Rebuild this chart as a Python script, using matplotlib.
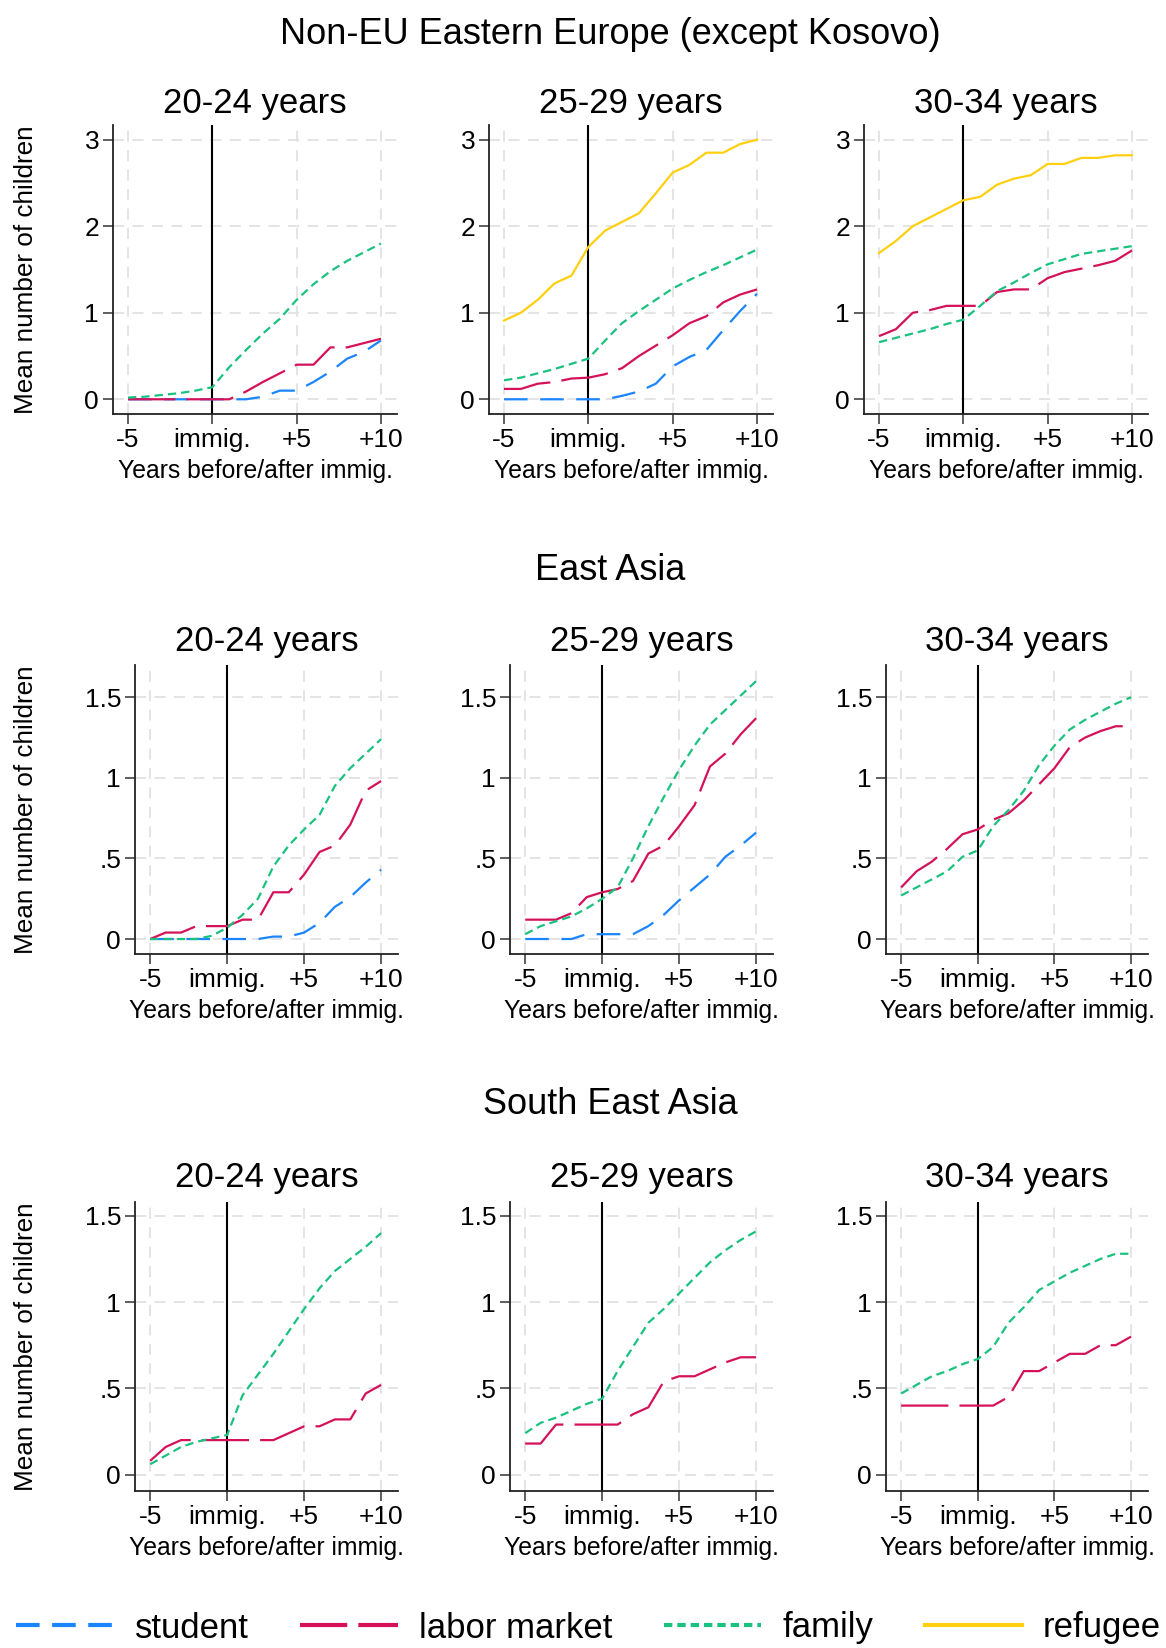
import matplotlib
matplotlib.use("Agg")
import matplotlib.pyplot as plt

plt.rcParams["font.family"] = ["Liberation Sans", "DejaVu Sans"]
plt.rcParams["lines.scale_dashes"] = False

# years relative to immigration
years = list(range(-5, 11))
xtick_pos = [-5, 0, 5, 10]
xtick_labels = ["-5", "immig.", "+5", "+10"]

# Non-EU Eastern Europe (except Kosovo)
ee_2024_student = [0, 0, 0, 0, 0, 0, 0, 0, 0.03, 0.10, 0.10, 0.20, 0.32, 0.47, 0.55, 0.68]
ee_2024_labor = [0, 0, 0, 0, 0, 0, 0, 0.09, 0.20, 0.30, 0.40, 0.40, 0.60, 0.60, 0.65, 0.70]
ee_2024_family = [0.02, 0.03, 0.05, 0.07, 0.10, 0.14, 0.37, 0.57, 0.76, 0.93, 1.15, 1.33, 1.48, 1.60, 1.70, 1.80]

ee_2529_student = [0, 0, 0, 0, 0, 0, 0, 0.04, 0.09, 0.18, 0.38, 0.49, 0.57, 0.80, 1.02, 1.22]
ee_2529_labor = [0.12, 0.12, 0.18, 0.20, 0.24, 0.25, 0.29, 0.36, 0.50, 0.62, 0.74, 0.88, 0.96, 1.12, 1.21, 1.27]
ee_2529_family = [0.22, 0.25, 0.30, 0.35, 0.41, 0.47, 0.68, 0.88, 1.02, 1.15, 1.28, 1.38, 1.47, 1.55, 1.64, 1.73]
ee_2529_refugee = [0.91, 1.00, 1.15, 1.34, 1.43, 1.76, 1.95, 2.05, 2.15, 2.38, 2.62, 2.71, 2.85, 2.85, 2.95, 3.00]

ee_3034_labor = [0.73, 0.81, 1.00, 1.03, 1.08, 1.08, 1.08, 1.24, 1.27, 1.27, 1.40, 1.47, 1.51, 1.55, 1.60, 1.72]
ee_3034_family = [0.66, 0.71, 0.76, 0.81, 0.87, 0.92, 1.08, 1.25, 1.35, 1.46, 1.56, 1.62, 1.68, 1.71, 1.74, 1.77]
ee_3034_refugee = [1.69, 1.83, 2.00, 2.10, 2.20, 2.30, 2.34, 2.48, 2.55, 2.59, 2.72, 2.72, 2.79, 2.79, 2.82, 2.82]

# East Asia
ea_2024_student = [0, 0, 0, 0, 0, 0, 0, 0, 0.015, 0.015, 0.04, 0.10, 0.20, 0.26, 0.35, 0.43]
ea_2024_labor = [0, 0.04, 0.04, 0.08, 0.08, 0.08, 0.12, 0.12, 0.29, 0.29, 0.40, 0.54, 0.58, 0.71, 0.92, 0.98]
ea_2024_family = [0, 0, 0, 0, 0.02, 0.07, 0.15, 0.25, 0.45, 0.58, 0.68, 0.77, 0.95, 1.06, 1.15, 1.24]

ea_2529_student = [0, 0, 0, 0, 0.03, 0.03, 0.03, 0.03, 0.08, 0.15, 0.24, 0.32, 0.40, 0.51, 0.58, 0.66]
ea_2529_labor = [0.12, 0.12, 0.12, 0.16, 0.26, 0.29, 0.31, 0.36, 0.53, 0.58, 0.70, 0.83, 1.07, 1.15, 1.27, 1.37]
ea_2529_family = [0.03, 0.08, 0.11, 0.14, 0.19, 0.25, 0.32, 0.50, 0.70, 0.88, 1.05, 1.20, 1.33, 1.42, 1.51, 1.60]

ea_3034_labor = [0.32, 0.42, 0.48, 0.56, 0.65, 0.68, 0.74, 0.78, 0.86, 0.96, 1.06, 1.19, 1.25, 1.29, 1.32, 1.32]
ea_3034_family = [0.27, 0.32, 0.37, 0.42, 0.51, 0.55, 0.70, 0.80, 0.92, 1.08, 1.20, 1.30, 1.36, 1.41, 1.46, 1.50]

# South East Asia
sea_2024_labor = [0.08, 0.16, 0.20, 0.20, 0.20, 0.20, 0.20, 0.20, 0.20, 0.24, 0.28, 0.28, 0.32, 0.32, 0.47, 0.52]
sea_2024_family = [0.06, 0.11, 0.16, 0.19, 0.21, 0.23, 0.46, 0.58, 0.70, 0.83, 0.96, 1.08, 1.18, 1.25, 1.32, 1.40]

sea_2529_labor = [0.18, 0.18, 0.29, 0.29, 0.29, 0.29, 0.29, 0.35, 0.39, 0.54, 0.57, 0.57, 0.61, 0.65, 0.68, 0.68]
sea_2529_family = [0.24, 0.30, 0.33, 0.37, 0.41, 0.44, 0.60, 0.74, 0.88, 0.96, 1.05, 1.14, 1.23, 1.30, 1.36, 1.41]

sea_3034_labor = [0.40, 0.40, 0.40, 0.40, 0.40, 0.40, 0.40, 0.45, 0.60, 0.60, 0.65, 0.70, 0.70, 0.75, 0.75, 0.80]
sea_3034_family = [0.47, 0.52, 0.57, 0.60, 0.64, 0.67, 0.74, 0.88, 0.97, 1.07, 1.12, 1.17, 1.21, 1.25, 1.28, 1.28]

region_titles = ["Non-EU Eastern Europe (except Kosovo)", "East Asia", "South East Asia"]
age_titles = ["20-24 years", "25-29 years", "30-34 years"]
groups = ["student", "labor market", "family", "refugee"]

panels = [
    [
        {"student": ee_2024_student, "labor market": ee_2024_labor, "family": ee_2024_family},
        {"student": ee_2529_student, "labor market": ee_2529_labor, "family": ee_2529_family,
         "refugee": ee_2529_refugee},
        {"labor market": ee_3034_labor, "family": ee_3034_family, "refugee": ee_3034_refugee},
    ],
    [
        {"student": ea_2024_student, "labor market": ea_2024_labor, "family": ea_2024_family},
        {"student": ea_2529_student, "labor market": ea_2529_labor, "family": ea_2529_family},
        {"labor market": ea_3034_labor, "family": ea_3034_family},
    ],
    [
        {"labor market": sea_2024_labor, "family": sea_2024_family},
        {"labor market": sea_2529_labor, "family": sea_2529_family},
        {"labor market": sea_3034_labor, "family": sea_3034_family},
    ],
]

styles = {
    "student": dict(color="#1a85ff", dashes=(17, 9)),
    "labor market": dict(color="#d41159", dashes=(34, 8)),
    "family": dict(color="#1ac17f", dashes=(6, 3.6)),
    "refugee": dict(color="#ffcf10", dashes=()),
}

row_yticks = [[0, 1, 2, 3], [0, 0.5, 1, 1.5], [0, 0.5, 1, 1.5]]
row_yticklabels = [["0", "1", "2", "3"], ["0", ".5", "1", "1.5"], ["0", ".5", "1", "1.5"]]
row_ylim = [(-0.17, 3.17), (-0.093, 1.70), (-0.095, 1.58)]
row_xlim = [(-5.89, 10.95), (-5.99, 11.1), (-5.99, 11.1)]

W, H = 1166, 1648
fig = plt.figure(figsize=(W / 100, H / 100), dpi=100)

# pixel boxes (top, bottom) per row and (left, right) per column
row_tb = [(125, 414), (665, 954), (1202, 1491)]
row_lr = [[(113, 397), (489, 773), (864, 1148)],
          [(135, 398), (510, 773), (886, 1148)],
          [(135, 398), (510, 773), (886, 1148)]]
region_y = [34, 570, 1104]
title_y = [103, 641, 1177]

handles = {}
for r in range(3):
    fig.text(610 / W, 1 - region_y[r] / H, region_titles[r], ha="center", va="center", fontsize=26)
    top, bot = row_tb[r]
    for c in range(3):
        left, right = row_lr[r][c]
        ax = fig.add_axes([left / W, 1 - bot / H, (right - left) / W, (bot - top) / H])
        ax.set_xlim(row_xlim[r])
        ax.set_ylim(row_ylim[r])
        ax.grid(True, color="#e2e2e2", linestyle=(0, (8, 6)), linewidth=1.3)
        ax.set_axisbelow(True)
        ax.axvline(0, color="black", linewidth=1.5, zorder=1.5)
        for g in groups:
            if g in panels[r][c]:
                st = styles[g]
                (ln,) = ax.plot(years, panels[r][c][g], color=st["color"], linewidth=1.6, label=g, zorder=2)
                if st["dashes"]:
                    ln.set_dashes(st["dashes"])
                handles[g] = ln
        ax.set_xticks(xtick_pos)
        ax.set_xticklabels(xtick_labels)
        ax.set_yticks(row_yticks[r])
        ax.set_yticklabels(row_yticklabels[r])
        ax.tick_params(labelsize=19, length=7, width=1.1, color="#333333", pad=3)
        for side in ["top", "right"]:
            ax.spines[side].set_visible(False)
        for side in ["left", "bottom"]:
            ax.spines[side].set_color("#222222")
            ax.spines[side].set_linewidth(1.3)
        ax.set_xlabel("Years before/after immig.", fontsize=17.8, labelpad=5)
        if c == 0:
            ax.set_ylabel("Mean number of children", fontsize=18.8)
            ax.yaxis.set_label_coords((38 - left) / (right - left), 0.5)
        fig.text((left + right) / 2 / W, 1 - title_y[r] / H, age_titles[c], ha="center", va="center", fontsize=25)

leg = fig.legend(
    [handles[g] for g in groups], groups,
    loc="center", bbox_to_anchor=(0.505, 1 - 1628 / H), ncol=4, frameon=False,
    prop={"size": 25},
    handlelength=2.8, handletextpad=0.6, columnspacing=1.5, borderpad=0.1,
)
for ln in leg.get_lines():
    ln.set_linewidth(3)

fig.savefig("out.png", dpi=100)
